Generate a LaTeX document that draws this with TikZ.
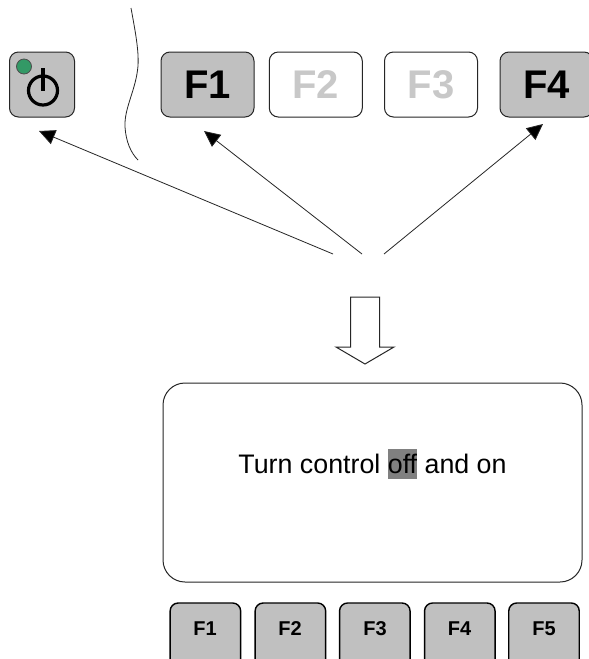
\documentclass[tikz,border=0pt]{standalone}
\usepackage{fontspec}
\setmainfont{Liberation Sans}
\usetikzlibrary{arrows.meta}
\definecolor{keygray}{HTML}{C0C0C0}
\definecolor{dimtext}{HTML}{C8C8C8}
\definecolor{ledgreen}{HTML}{339966}
\definecolor{hilite}{HTML}{808080}
\tikzset{
  bigkey/.style={draw=black!85,line width=1pt,rounded corners=9pt,minimum width=93pt,minimum height=65pt,inner sep=0pt,
    font=\fontsize{40}{40}\selectfont\bfseries},
  bigon/.style={bigkey,fill=keygray,text=black},
  bigoff/.style={bigkey,fill=white,text=dimtext},
  softkey/.style={draw=black,line width=1.4pt,rounded corners=8pt,fill=keygray,minimum width=70.5pt,minimum height=70pt,inner sep=0pt},
  softlabel/.style={inner sep=0pt,font=\fontsize{20}{20}\selectfont\bfseries},
  ptr/.style={draw=black!85,line width=0.8pt,-{Triangle[length=16pt,width=15pt,fill=black]}},
}
\begin{document}
\begin{tikzpicture}[x=1pt,y=-1pt]
\clip (0,0) rectangle (589,659);
\fill[white] (0,0) rectangle (589,659);
% squiggle
\draw[black!85,line width=0.8pt] (131,8) .. controls (135,30) and (139,50) .. (138,66)
  .. controls (136,90) and (124,108) .. (125,127) .. controls (126,142) and (131,153) .. (138,160);
% top keys
\node[bigon,minimum width=65pt] (power) at (42,84.5) {};
\node[circle,draw=black!70,line width=0.8pt,fill=ledgreen,minimum size=15pt,inner sep=0pt] (led) at (24,66.5) {};
\node[circle,draw=black,line width=3.2pt,minimum size=29pt,inner sep=0pt] (ring) at (43,90.5) {};
\coordinate (stemtop) at (43,68);
\draw[black,line width=3.2pt] (stemtop) -- (ring.center);
\node[bigon] (f1) at (207.5,84.5) {F1};
\node[bigoff] (f2) at (315.8,84.5) {F2};
\node[bigoff] (f3) at (431,84.5) {F3};
\node[bigon] (f4) at (546.5,84.5) {F4};
% arrows
\coordinate (s1) at (333,254);
\coordinate (s2) at (362,254);
\coordinate (s3) at (384,254);
\coordinate (t1) at (39,131);
\coordinate (t2) at (204,131);
\coordinate (t3) at (543,124);
\draw[ptr] (s1) -- (t1);
\draw[ptr] (s2) -- (t2);
\draw[ptr] (s3) -- (t3);
% hollow arrow
\draw[black!85,line width=1pt,fill=white,line join=miter] (350.5,297) -- (379.5,297) -- (379.5,347) -- (394,347) -- (365,364) -- (336,347) -- (350.5,347) -- cycle;
% display
\node[draw=black!85,line width=1pt,rounded corners=22pt,fill=white,minimum width=419pt,minimum height=199pt,inner sep=0pt] (display) at (372.5,482.5) {};
\setlength{\fboxsep}{0pt}
\node[inner sep=0pt,anchor=base,font=\fontsize{26.8}{30}\selectfont] (msg) at (372.5,473.5) {Turn control \colorbox{hilite}{\rule[-5pt]{0pt}{30pt}off} and on};
% soft keys
\node[softkey] (k1) at (205.4,638) {};
\node[softkey] (k2) at (290.4,638) {};
\node[softkey] (k3) at (374.8,638) {};
\node[softkey] (k4) at (459.8,638) {};
\node[softkey] (k5) at (544,638) {};
\node[softlabel] (l1) at (205,628.5) {F1};
\node[softlabel] (l2) at (290,628.5) {F2};
\node[softlabel] (l3) at (375,628.5) {F3};
\node[softlabel] (l4) at (459.5,628.5) {F4};
\node[softlabel] (l5) at (544,628.5) {F5};
\end{tikzpicture}
\end{document}
